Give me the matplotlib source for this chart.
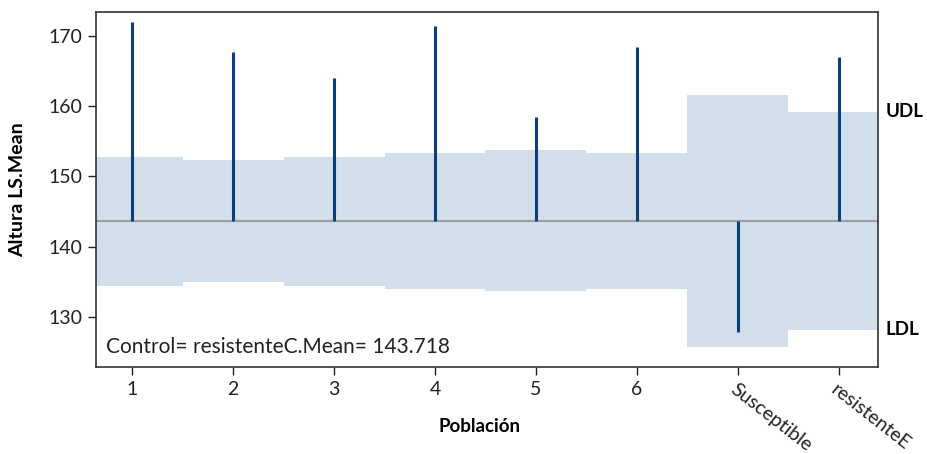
import matplotlib.pyplot as plt
from matplotlib.transforms import blended_transform_factory

# Data
categories = ['1', '2', '3', '4', '5', '6', 'Susceptible', 'resistenteE']
means = [172.0, 167.7, 164.0, 171.4, 158.5, 168.4, 127.9, 167.0]
udl = [152.8, 152.4, 152.8, 153.3, 153.7, 153.3, 161.6, 159.2]
ldl = [134.4, 135.0, 134.4, 134.0, 133.7, 134.0, 125.7, 128.2]
control = 143.718

plt.rcParams['font.family'] = ['Lato', 'DejaVu Sans']

fig = plt.figure(figsize=(9.27, 4.54), dpi=100)
ax = fig.add_axes([0.1036, 0.1916, 0.8434, 0.782])

x = list(range(len(categories)))

# shaded decision band for each group
for i in x:
    ax.fill_between([i - 0.5, i + 0.5], ldl[i], udl[i], color='#d3deeb', lw=0, zorder=1)

ax.axhline(control, color='#9a9ea5', lw=1.5, zorder=2)
ax.vlines(x, control, means, color='#0a3f7d', lw=2.2, zorder=3)

ax.set_xlim(-0.36, 7.39)
ax.set_ylim(122.9, 173.4)
ax.set_yticks([130, 140, 150, 160, 170])
ax.set_xticks(x)
ax.set_xticklabels(categories)
for lbl in ax.get_xticklabels()[6:]:
    lbl.set_rotation(-38)
    lbl.set_ha('left')
    lbl.set_va('top')
    lbl.set_rotation_mode('anchor')
    lbl.set_fontsize(13.5)

ax.tick_params(labelsize=14, colors='#222222', length=6, width=1, pad=4)
for s in ax.spines.values():
    s.set_color('#333333')
    s.set_linewidth(1.2)

ax.set_xlabel('Población', fontsize=13.5, fontweight='bold')
ax.xaxis.set_label_coords(0.491, -0.144)
ax.set_ylabel('Altura LS.Mean', fontsize=14, fontweight='bold')
ax.yaxis.set_label_coords(-0.0895, 0.5)

tr = blended_transform_factory(ax.transAxes, ax.transData)
ax.text(1.01, udl[-1], 'UDL', transform=tr, fontsize=13.5, fontweight='bold', va='center', ha='left')
ax.text(1.01, ldl[-1], 'LDL', transform=tr, fontsize=13.5, fontweight='bold', va='center', ha='left')

ax.text(0.013, 0.056, 'Control= resistenteC.Mean= 143.718', transform=ax.transAxes,
        fontsize=15, va='center', ha='left', color='#222222')

fig.savefig('out.png', dpi=100)
